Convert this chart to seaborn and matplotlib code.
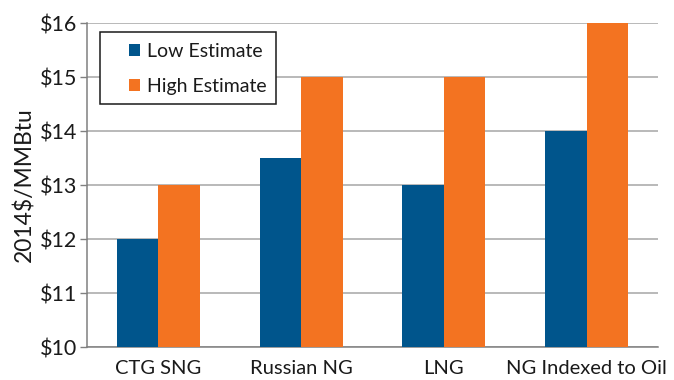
import matplotlib
matplotlib.use("Agg")
import matplotlib.pyplot as plt
from matplotlib.patches import Rectangle
from matplotlib.ticker import FixedLocator, FuncFormatter
import pandas as pd
import seaborn as sns

# Natural gas price estimates by supply source
categories = ["CTG SNG", "Russian NG", "LNG", "NG Indexed to Oil"]
low_estimate = [12.0, 13.5, 13.0, 14.0]
high_estimate = [13.0, 15.0, 15.0, 16.0]
series_names = ["Low Estimate", "High Estimate"]
y_ticks = [10, 11, 12, 13, 14, 15, 16]

df = pd.DataFrame({
    "source": categories * 2,
    "series": [series_names[0]] * len(categories) + [series_names[1]] * len(categories),
    "price": low_estimate + high_estimate,
})

sns.set_theme(style="white")
plt.rcParams["font.family"] = ["Lato", "DejaVu Sans"]

W, H = 674, 380
fig = plt.figure(figsize=(W / 100, H / 100), dpi=100)
ax = fig.add_axes([87 / W, 1 - 347 / H, 571 / W, 324 / H])

palette = {"Low Estimate": "#00558C", "High Estimate": "#F37321"}
sns.barplot(data=df, x="source", y="price", hue="series", order=categories,
            hue_order=series_names, palette=palette, width=0.58,
            saturation=1, ax=ax, zorder=3, linewidth=0)

ax.set_ylim(10, 16)
ax.set_xlim(-0.5, len(categories) - 0.5)
ax.yaxis.set_major_locator(FixedLocator(y_ticks))
ax.yaxis.set_major_formatter(FuncFormatter(lambda v, _: f"${v:.0f}"))
ax.yaxis.grid(True, color="#A6A6A6", linewidth=1.1, zorder=0)
ax.set_axisbelow(True)

ax.set_xlabel("")
ax.set_ylabel("2014$/MMBtu", fontsize=16.5, color="#1a1a1a", labelpad=3)

# category boundary ticks on the x axis
ax.xaxis.set_minor_locator(FixedLocator([i - 0.5 for i in range(len(categories) + 1)]))
ax.tick_params(axis="x", which="major", length=0, pad=9, labelsize=14.5, labelcolor="#1a1a1a")
ax.tick_params(axis="x", which="minor", length=6, width=1, color="#808080", direction="out")
ax.tick_params(axis="y", which="major", length=5, width=1, color="#808080", direction="out",
               labelsize=15.5, labelcolor="#1a1a1a", pad=2, left=True)

for side in ["top", "right"]:
    ax.spines[side].set_visible(False)
for side in ["left", "bottom"]:
    ax.spines[side].set_color("#808080")
    ax.spines[side].set_linewidth(1.1)

# legend: boxed key in the upper-left of the plot area
handles, labels = ax.get_legend_handles_labels()
ax.get_legend().remove()
box = Rectangle((100 / W, 1 - 104 / H), 176 / W, 72 / H, transform=fig.transFigure,
                facecolor="white", edgecolor="#1a1a1a", linewidth=1.1, zorder=1)
fig.patches.append(box)
leg = fig.legend(handles, labels, loc="upper left", bbox_to_anchor=(129 / W, 1 - 43 / H),
                 frameon=False, fontsize=14, handlelength=0.55, handleheight=0.55,
                 handletextpad=0.4, labelspacing=0.92, borderpad=0.0, borderaxespad=0.0)
leg.set_zorder(2)
for t in leg.get_texts():
    t.set_color("#1a1a1a")

fig.savefig("out.png", dpi=100)
